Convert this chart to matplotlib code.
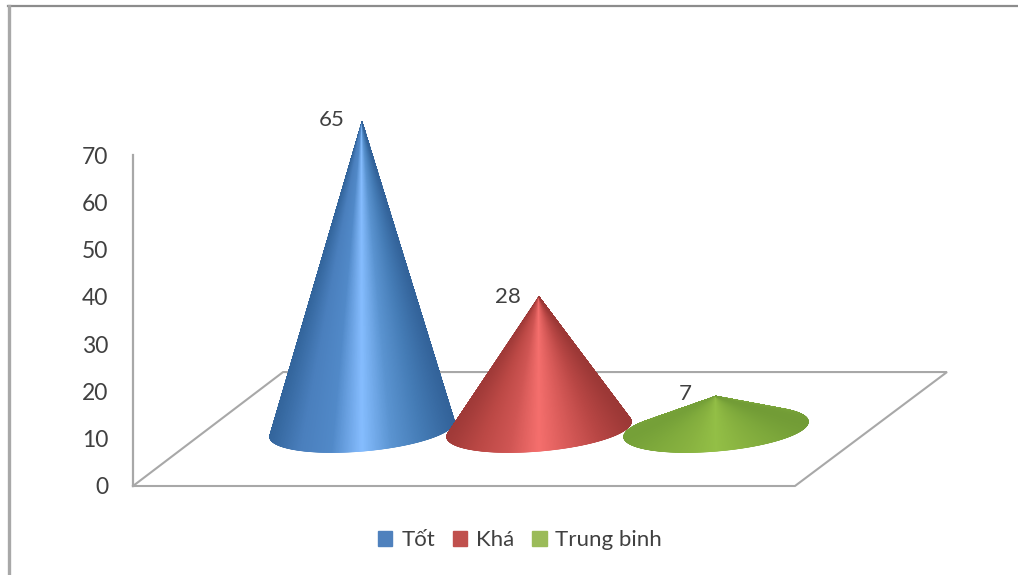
import numpy as np
import matplotlib
matplotlib.use('Agg')
import matplotlib.pyplot as plt
from matplotlib.collections import PolyCollection
from matplotlib.colors import LinearSegmentedColormap
from matplotlib.patches import Patch

plt.rcParams['font.family'] = ['Lato', 'Noto Sans', 'DejaVu Sans']

categories = ['Tốt', 'Khá', 'Trung binh']
values = [65, 28, 7]
y_ticks = [0, 10, 20, 30, 40, 50, 60, 70]
legend_colors = ['#4f81bd', '#c0504d', '#9bbb59']

# shading across each cone, left edge -> right edge
shades = [
    ['#33659c', '#4a7fbd', '#5189c8', '#86bdff', '#5a93d0', '#447bb5', '#33639a'],
    ['#a03a38', '#bb4845', '#cf5553', '#f56f6d', '#d75a58', '#b84644', '#9c3836'],
    ['#75a038', '#7faa3c', '#88b240', '#93bf46', '#88b240', '#7da83b', '#729c36'],
]

text_color = '#404040'
line_color = '#a8a8a8'

# cones stand in the middle of the floor, floor depth is in y axis units
floor_depth = 24.1
base_y = 12.0
base_a = 0.522
base_b = 4.65
base_tilt = 1.6

fig = plt.figure(figsize=(10.18, 5.75), dpi=100)
ax = fig.add_axes([133 / 1018, 89 / 575, 814 / 1018, 331 / 575])
ax.set_xlim(-1.294, 3.305)
ax.set_ylim(0, 70)
ax.patch.set_alpha(0)
for s in ['top', 'right', 'bottom']:
    ax.spines[s].set_visible(False)
ax.spines['left'].set_color(line_color)
ax.spines['left'].set_linewidth(1.6)
ax.set_xticks([])
ax.set_yticks(y_ticks)
ax.tick_params(axis='y', length=0, pad=18, labelsize=16.5, labelcolor=text_color)

# floor
ax.plot([-1.294, 2.446, 3.305, -0.446, -1.294], [0, 0, floor_depth, floor_depth, 0],
        color=line_color, lw=1.5, clip_on=False, zorder=1, solid_joinstyle='miter')


def draw_cone(pos, value, colors, z):
    cmap = LinearSegmentedColormap.from_list('cone', colors)
    t = np.linspace(0, 2 * np.pi, 1441)
    xs = pos + base_a * np.cos(t)
    ys = base_y + base_b * np.sin(t) + base_tilt * np.cos(t)
    tip = (pos, base_y + value)
    # only the side facing the viewer gets drawn
    dx = np.gradient(xs)
    dy = np.gradient(ys)
    front = (xs - tip[0]) * dy - (ys - tip[1]) * dx > 0
    polys = []
    cols = []
    for i in range(len(t) - 1):
        if front[i]:
            polys.append([tip, (xs[i], ys[i]), (xs[i + 1], ys[i + 1])])
            cols.append(cmap((np.cos(t[i]) + 1) / 2))
    pc = PolyCollection(polys, facecolors=cols, edgecolors=cols, linewidths=0.4,
                        clip_on=False, zorder=z)
    ax.add_collection(pc)


label_offsets = [(-30, 2), (-31, 0), (-31, 2)]
for i in range(len(values)):
    draw_cone(i, values[i], shades[i], 2 + i)
    ax.annotate(str(values[i]), xy=(i, base_y + values[i]), xytext=label_offsets[i],
                textcoords='offset pixels', ha='center', va='center',
                fontsize=16, color=text_color, annotation_clip=False, zorder=6)

handles = [Patch(color=c) for c in legend_colors]
fig.legend(handles, categories, loc='center', bbox_to_anchor=(520 / 1018, 1 - 540 / 575),
           ncol=3, frameon=False, fontsize=16, labelcolor=text_color,
           handlelength=0.65, handleheight=0.65, handletextpad=0.4, columnspacing=0.8)

# frame of the pasted chart, top and left only
fig.add_artist(plt.Line2D([8 / 1018, 1], [1 - 6 / 575, 1 - 6 / 575], color='#8c8c8c', lw=1.6))
fig.add_artist(plt.Line2D([9 / 1018, 9 / 1018], [0, 1 - 6 / 575], color='#a8a8a8', lw=2.4))

fig.savefig('out.png', dpi=100)
